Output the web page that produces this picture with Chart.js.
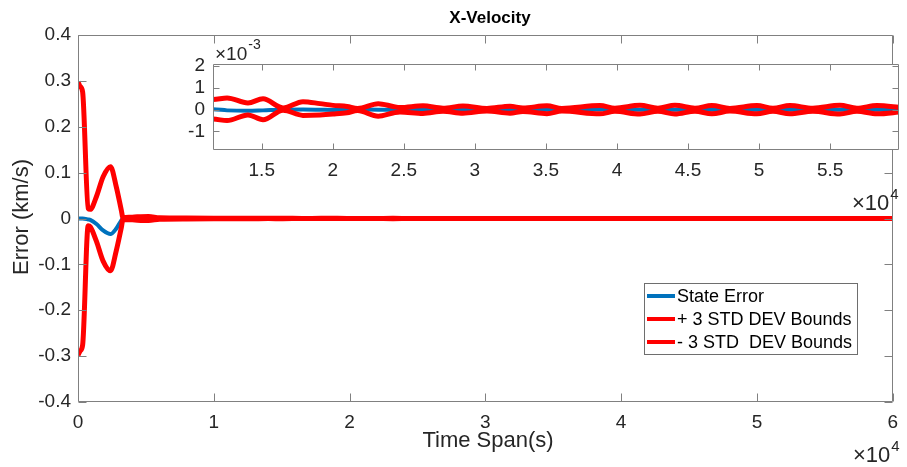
<!DOCTYPE html>
<html>
<head>
<meta charset="utf-8">
<script src="https://cdn.jsdelivr.net/npm/chart.js@4.4.0/dist/chart.umd.min.js"></script>
<style>
html, body { margin: 0; padding: 0; background: #fff; }
#wrap { position: relative; width: 907px; height: 467px; overflow: hidden; }
#mainChart { position: absolute; left: 0; top: 0; }
#insetChart { position: absolute; left: 180px; top: 30px; }
</style>
</head>
<body>
<div id="wrap">
  <canvas id="mainChart" width="907" height="467"></canvas>
  <canvas id="insetChart" width="727" height="184"></canvas>
</div>
<script>
// values (time in s, errors in km/s)
var timeSec = [0, 150, 340, 750, 900, 1360, 1850, 2390, 2820, 3190, 3310, 4000, 5200, 6000, 8000, 10000,
    11570, 12560, 14030, 15090, 16500, 17900, 19100, 20010, 21000, 21750, 23200, 24240, 24730,
    26350, 27760, 29160, 30850, 32470, 33380, 35070, 36130, 38800, 39860, 41620, 42880, 44080,
    45490, 46680, 47950, 49850, 50980, 52170, 53790, 55690, 56890, 58300, 60000];
var stateError = [0, 0, 0, -0.002, -0.003, -0.012, -0.026, -0.034, -0.022, -0.004, 0, 0, 0, 0, 0, 0,
    0.00002, -0.00003, -0.00005, -0.00003, 0, 0.00001, 0, -0.00001, 0, 0.00001, 0, 0, 0,
    0, 0.00001, 0, 0, -0.00001, 0, 0, 0, 0.00001, 0, 0, 0, 0,
    0, 0, 0, 0, 0, 0, 0, 0, 0, 0, 0];
var upperBound = [0.298, 0.288, 0.276, 0.022, 0.02, 0.048, 0.091, 0.113, 0.069, 0.018, 0.002, 0.003, 0.0045, 0.0015, 0.001, 0.0008,
    0.00047, 0.00054, 0.00031, 0.0005, 0.00008, 0.00037, 0.00028, 0.0002, 0.00015, 0.00006, 0.00028, 0.00015, 0.0001,
    0.00018, 0.00007, 0.00017, 0.00006, 0.00016, 0.00008, 0.00018, 0.00006, 0.00019, 0.00007, 0.0002, 0.00007, 0.0002,
    0.00007, 0.00019, 0.00006, 0.00019, 0.00007, 0.00019, 0.00007, 0.0002, 0.00007, 0.00019, 0.0001];
var lowerBound = [-0.298, -0.289, -0.276, -0.016, -0.018, -0.05, -0.093, -0.114, -0.07, -0.02, -0.002, -0.003, -0.0045, -0.0015, -0.001, -0.0008,
    -0.00043, -0.0005, -0.00024, -0.00046, -0.00002, -0.00026, -0.00024, -0.0002, -0.00014, -0.00004, -0.0003, -0.00015, -0.0001,
    -0.00017, -0.00007, -0.00016, -0.00006, -0.00016, -0.00008, -0.00018, -0.00006, -0.00019, -0.00007, -0.0002, -0.00007, -0.0002,
    -0.00007, -0.00019, -0.00006, -0.00019, -0.00007, -0.00019, -0.00007, -0.0002, -0.00007, -0.00019, -0.0001];

var mainXTicks = [0, 10000, 20000, 30000, 40000, 50000, 60000];
var mainYTicks = [-0.4, -0.3, -0.2, -0.1, 0, 0.1, 0.2, 0.3, 0.4];
var insetXTicks = [15000, 20000, 25000, 30000, 35000, 40000, 45000, 50000, 55000];
var insetYTicks = [-0.001, 0, 0.001, 0.002];
var seriesNames = ['State Error', '+ 3 STD DEV Bounds', '- 3 STD  DEV Bounds'];
var seriesColors = ['#0072BD', '#FF0000', '#FF0000'];

var FONT = "'Liberation Sans', Arial, sans-serif";
var TEXT = '#262626';
var AXIS = '#808080';

function toPoints(ys) {
    return timeSec.map(function(t, i) { return { x: t, y: ys[i] }; });
}

function buildDatasets(width) {
    var sets = [stateError, upperBound, lowerBound];
    return sets.map(function(ys, i) {
        return {
            label: seriesNames[i],
            data: toPoints(ys),
            borderColor: seriesColors[i],
            borderWidth: i === 0 ? width - 1 : width,
            pointRadius: 0,
            cubicInterpolationMode: 'monotone',
            order: i === 0 ? 3 : 3 - i
        };
    });
}

function fixTicks(values) {
    return function(scale) {
        scale.ticks = values.map(function(v) { return { value: v }; });
    };
}

function tickText(v) {
    if (Math.abs(v) < 1e-12) return '0';
    return String(Math.round(v * 10) / 10);
}

// box with inward ticks on all four sides, MATLAB style
function drawFrame(chart, tickLen, xTicks, yTicks) {
    var ctx = chart.ctx, a = chart.chartArea;
    var xs = chart.scales.x, ys = chart.scales.y;
    var L = Math.round(a.left) + 0.5, R = Math.round(a.right) - 0.5;
    var T = Math.round(a.top) + 0.5, B = Math.round(a.bottom) - 0.5;
    ctx.save();
    ctx.strokeStyle = AXIS;
    ctx.lineWidth = 1;
    ctx.beginPath();
    ctx.rect(L, T, R - L, B - T);
    xTicks.forEach(function(v) {
        var px = Math.round(xs.getPixelForValue(v)) + 0.5;
        ctx.moveTo(px, B); ctx.lineTo(px, B - tickLen);
        ctx.moveTo(px, T); ctx.lineTo(px, T + tickLen);
    });
    yTicks.forEach(function(v) {
        var py = Math.round(ys.getPixelForValue(v)) + 0.5;
        ctx.moveTo(L, py); ctx.lineTo(L + tickLen, py);
        ctx.moveTo(R, py); ctx.lineTo(R - tickLen, py);
    });
    ctx.stroke();
    ctx.restore();
}

function drawExponent(ctx, x, y, exp, size, expSize, lift) {
    ctx.save();
    ctx.fillStyle = TEXT;
    ctx.textBaseline = 'alphabetic';
    ctx.textAlign = 'left';
    ctx.font = size + 'px ' + FONT;
    ctx.fillText('\u00d710', x, y);
    var w = ctx.measureText('\u00d710').width;
    ctx.font = expSize + 'px ' + FONT;
    ctx.fillText(exp, x + w + 1, y - size * lift);
    ctx.restore();
}

var mainFrame = {
    id: 'mainFrame',
    afterDraw: function(chart) {
        var ctx = chart.ctx;
        drawFrame(chart, 8, mainXTicks, mainYTicks);

        ctx.save();
        ctx.fillStyle = '#000';
        ctx.textAlign = 'center';
        ctx.textBaseline = 'middle';
        ctx.font = 'bold 17px ' + FONT;
        ctx.fillText('X-Velocity', 490, 18);

        ctx.fillStyle = TEXT;
        ctx.font = '22px ' + FONT;
        ctx.fillText('Time Span(s)', 488, 441);
        ctx.translate(22, 217);
        ctx.rotate(-Math.PI / 2);
        ctx.fillText('Error (km/s)', 0, 0);
        ctx.restore();

        drawExponent(ctx, 853, 462, '4', 22, 15, 0.5);

        // legend
        var bx = 644.5, by = 283.5, bw = 213, bh = 71;
        ctx.save();
        ctx.fillStyle = '#fff';
        ctx.fillRect(bx, by, bw, bh);
        ctx.strokeStyle = '#6e6e6e';
        ctx.lineWidth = 1;
        ctx.strokeRect(bx, by, bw, bh);
        ctx.font = '18px ' + FONT;
        ctx.textAlign = 'left';
        ctx.textBaseline = 'middle';
        var rows = [296, 319, 342];
        seriesNames.forEach(function(name, i) {
            ctx.strokeStyle = seriesColors[i];
            ctx.lineWidth = 4;
            ctx.beginPath();
            ctx.moveTo(647, rows[i]);
            ctx.lineTo(675, rows[i]);
            ctx.stroke();
            ctx.fillStyle = '#000';
            ctx.fillText(name, 677, rows[i] + 1);
        });
        ctx.restore();
    }
};

var insetFrame = {
    id: 'insetFrame',
    beforeDraw: function(chart) {
        var a = chart.chartArea, ctx = chart.ctx;
        ctx.save();
        ctx.fillStyle = '#fff';
        ctx.fillRect(a.left, a.top, a.right - a.left, a.bottom - a.top);
        ctx.restore();
    },
    afterDraw: function(chart) {
        drawFrame(chart, 6, insetXTicks, insetYTicks);
        drawExponent(chart.ctx, 35, 30, '-3', 19, 14, 0.6);
        drawExponent(chart.ctx, 672, 180, '4', 22, 15, 0.5);
    }
};

function axisOptions(min, max, ticks, size, padding, fmt) {
    return {
        type: 'linear',
        min: min,
        max: max,
        afterFit: size,
        afterBuildTicks: fixTicks(ticks),
        grid: { display: false, drawTicks: false },
        border: { display: false },
        ticks: {
            color: TEXT,
            font: { family: FONT, size: 19 },
            padding: padding,
            maxRotation: 0,
            autoSkip: false,
            callback: fmt
        }
    };
}

new Chart(document.getElementById('mainChart').getContext('2d'), {
    type: 'line',
    data: { datasets: buildDatasets(5) },
    options: {
        responsive: false,
        animation: false,
        layout: { padding: { left: 0, top: 35, right: 8, bottom: 0 } },
        plugins: { legend: { display: false }, tooltip: { enabled: false } },
        scales: {
            x: axisOptions(0, 60000, mainXTicks, function(s) { s.height = 65; }, 9,
                function(v) { return String(v / 10000); }),
            y: axisOptions(-0.4, 0.4, mainYTicks, function(s) { s.width = 78; }, 7, tickText)
        }
    },
    plugins: [mainFrame]
});

new Chart(document.getElementById('insetChart').getContext('2d'), {
    type: 'line',
    data: { datasets: buildDatasets(5) },
    options: {
        responsive: false,
        animation: false,
        layout: { padding: { left: 0, top: 34, right: 8, bottom: 0 } },
        plugins: { legend: { display: false }, tooltip: { enabled: false } },
        scales: {
            x: axisOptions(11570, 59850, insetXTicks, function(s) { s.height = 64; }, 9,
                function(v) { return String(v / 10000); }),
            y: axisOptions(-0.00185, 0.0021, insetYTicks, function(s) { s.width = 33; }, 8,
                function(v) { return String(Math.round(v * 1000)); })
        }
    },
    plugins: [insetFrame]
});
</script>
</body>
</html>
